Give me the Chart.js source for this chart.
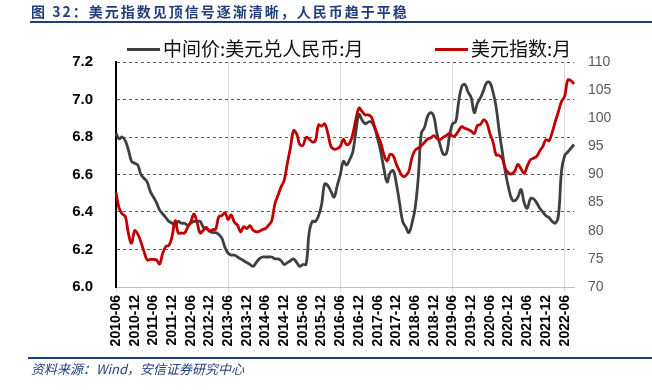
<!DOCTYPE html>
<html>
<head>
<meta charset="utf-8">
<script src="https://cdn.jsdelivr.net/npm/chart.js"></script>
<style>
  body { margin: 0; background: #fff; }
  #page { position: relative; width: 652px; height: 390px; overflow: hidden; font-family: "Noto Sans CJK SC", sans-serif; }
  #title { position: absolute; left: 31px; top: 2px; font-size: 14px; font-weight: bold; color: #1f3e7a; letter-spacing: 2px; line-height: 18px; white-space: nowrap; }
  .rule { position: absolute; height: 2px; background: #1f3e7a; }
  #chart { position: absolute; left: 0; top: 0; }
  .key-line { position: absolute; height: 3px; width: 33px; top: 48px; }
  .key-text { position: absolute; top: 37px; font-size: 19px; line-height: 22px; color: #111; white-space: nowrap; }
  #source { position: absolute; left: 31px; top: 361px; font-size: 13px; font-style: italic; color: #1f3e7a; line-height: 16px; white-space: nowrap; }
</style>
</head>
<body>
<div id="page">
  <canvas id="chart" width="652" height="390"></canvas>
  <div id="title">图 32：美元指数见顶信号逐渐清晰，人民币趋于平稳</div>
  <div class="rule" style="left:30px; top:21px; width:622px;"></div>
  <div class="key-line" style="left:127px; background:#3f3f3f;"></div>
  <div class="key-text" style="left:163px;">中间价:美元兑人民币:月</div>
  <div class="key-line" style="left:435px; background:#c00000;"></div>
  <div class="key-text" style="left:471px;">美元指数:月</div>
  <div class="rule" style="left:28px; top:357px; width:624px;"></div>
  <div id="source">资料来源：Wind，安信证券研究中心</div>
</div>
<script>
// 月度数据：2010-06 至 2022-09
const months = [];
for (let y = 2010, m = 6; months.length < 148; m++) {
    if (m > 12) { m = 1; y++; }
    months.push(y + '-' + String(m).padStart(2, '0'));
}

// 中间价:美元兑人民币:月 (左轴)
const usdCny = [
    6.82, 6.79, 6.80, 6.78, 6.73, 6.67, 6.66, 6.65, 6.60, 6.58, 6.56, 6.51,
    6.48, 6.45, 6.41, 6.39, 6.37, 6.35, 6.34, 6.33, 6.35, 6.34, 6.34, 6.33,
    6.34, 6.35, 6.35, 6.35, 6.32, 6.31, 6.30, 6.29, 6.29, 6.28, 6.26, 6.21,
    6.18, 6.17, 6.17, 6.16, 6.15, 6.14, 6.13, 6.12, 6.11, 6.13, 6.15, 6.16,
    6.16, 6.16, 6.16, 6.15, 6.15, 6.14, 6.12, 6.13, 6.14, 6.15, 6.13, 6.11,
    6.12, 6.12, 6.29, 6.35, 6.35, 6.38, 6.44, 6.55, 6.54, 6.51, 6.48, 6.54,
    6.60, 6.67, 6.65, 6.68, 6.72, 6.83, 6.92, 6.89, 6.87, 6.88, 6.88, 6.85,
    6.79, 6.72, 6.63, 6.56, 6.61, 6.62, 6.55, 6.45, 6.35, 6.32, 6.29, 6.34,
    6.42, 6.58, 6.82, 6.85, 6.91, 6.93, 6.91, 6.82, 6.76, 6.71, 6.71, 6.80,
    6.87, 6.88, 6.99, 7.07, 7.08, 7.04, 7.01, 6.93, 6.98, 7.01, 7.05, 7.09,
    7.09, 7.04, 6.96, 6.83, 6.72, 6.61, 6.53, 6.47, 6.46, 6.48, 6.52, 6.45,
    6.42, 6.47, 6.47, 6.45, 6.42, 6.40, 6.38, 6.37, 6.35, 6.34, 6.38, 6.62,
    6.70, 6.72, 6.74, 6.76
];

// 美元指数:月 (右轴)
const dxy = [
    86.8, 84.0, 83.0, 82.5, 79.5, 77.8, 80.0, 79.4, 78.0, 76.3, 74.8, 74.9,
    74.9, 74.8, 74.1, 76.0, 77.2, 77.4, 79.0, 81.8, 79.6, 79.6, 79.6, 80.6,
    81.6, 83.0, 81.5, 79.6, 80.1, 80.6, 79.9, 80.2, 80.3, 82.5, 82.7, 83.2,
    82.0, 82.8, 81.5, 81.0, 79.8, 80.7, 80.4, 80.9, 80.1, 79.8, 79.9, 80.2,
    80.4, 81.0, 81.8, 84.8, 86.3, 87.8, 89.0, 92.0, 94.8, 97.8, 97.2, 95.3,
    95.2, 96.6, 96.3, 95.8, 96.0, 98.8, 98.6, 99.0, 97.3, 95.0, 94.5, 94.6,
    95.0, 96.3, 95.3, 95.6, 97.2, 99.8, 101.8, 101.2, 100.6, 100.6, 100.2, 98.5,
    97.0, 95.6, 93.5, 92.4, 93.6, 93.3, 91.8, 90.6, 89.7, 89.8, 90.6, 93.0,
    94.3, 94.7, 95.1, 95.7, 96.3, 96.5, 96.9, 96.4, 96.2, 96.6, 96.9, 97.3,
    96.8, 97.0, 97.8, 98.5, 98.2, 98.0, 97.7, 97.3, 98.7, 98.9, 99.7, 99.2,
    97.3, 95.8, 93.5, 93.4, 92.8, 91.0, 90.3, 90.1, 90.6, 91.8, 91.0, 90.2,
    91.5, 92.6, 92.9, 93.2, 94.2, 95.0, 96.2, 96.0, 97.5, 99.4, 101.2, 103.0,
    103.9, 106.8, 106.7, 106.1
];

// 坐标轴刻度
const leftTicks = { min: 6.0, max: 7.2, step: 0.2 };
const rightTicks = { min: 70, max: 110, step: 5 };
const labelEvery = 6; // 每半年一个标签

const isLabelTick = i => i % labelEvery === 0;

new Chart(document.getElementById('chart'), {
    type: 'line',
    data: {
        labels: months,
        datasets: [{
            label: '中间价:美元兑人民币:月',
            data: usdCny,
            yAxisID: 'y',
            borderColor: '#3f3f3f',
            borderWidth: 2.8,
            pointRadius: 0,
            tension: 0.4,
            order: 1
        }, {
            label: '美元指数:月',
            data: dxy,
            yAxisID: 'y1',
            borderColor: '#c00000',
            borderWidth: 2.8,
            pointRadius: 0,
            tension: 0.4,
            order: 0
        }]
    },
    options: {
        responsive: false,
        animation: false,
        devicePixelRatio: 1,
        layout: { padding: { top: 62, left: 0, right: 0, bottom: 0 } },
        plugins: { legend: { display: false }, tooltip: { enabled: false } },
        scales: {
            x: {
                offset: false,
                afterFit: s => { s.height = 103; },
                grid: {
                    color: c => isLabelTick(c.index) ? '#d9d9d9' : 'transparent',
                    tickColor: c => isLabelTick(c.index) ? '#d9d9d9' : 'transparent',
                    lineWidth: 1,
                    drawTicks: true,
                    tickLength: 5
                },
                border: { display: true, color: '#bfbfbf', width: 1 },
                ticks: {
                    autoSkip: false,
                    minRotation: 90,
                    maxRotation: 90,
                    padding: 3,
                    color: '#000',
                    font: { family: 'Liberation Sans', size: 14, weight: 'bold' },
                    callback: (v, i) => isLabelTick(i) ? months[i] : null
                }
            },
            y: {
                position: 'left',
                min: leftTicks.min,
                max: leftTicks.max,
                afterFit: s => { s.width = 116; },
                grid: {
                    color: c => Math.abs(c.tick.value - leftTicks.min) < 1e-6 ? 'transparent' : '#595959',
                    lineWidth: 1,
                    drawTicks: false
                },
                border: { display: true, color: '#000', width: 2, dash: [3, 3] },
                ticks: {
                    stepSize: leftTicks.step,
                    padding: 23,
                    color: '#000',
                    font: { family: 'Liberation Sans', size: 15, weight: 'bold' },
                    callback: v => Number(v).toFixed(1)
                }
            },
            y1: {
                position: 'right',
                min: rightTicks.min,
                max: rightTicks.max,
                afterFit: s => { s.width = 78; },
                grid: { display: false, drawOnChartArea: false, drawTicks: false },
                border: { display: false },
                ticks: {
                    stepSize: rightTicks.step,
                    padding: 14,
                    color: '#595959',
                    font: { family: 'Liberation Sans', size: 14 }
                }
            }
        }
    }
});
</script>
</body>
</html>
